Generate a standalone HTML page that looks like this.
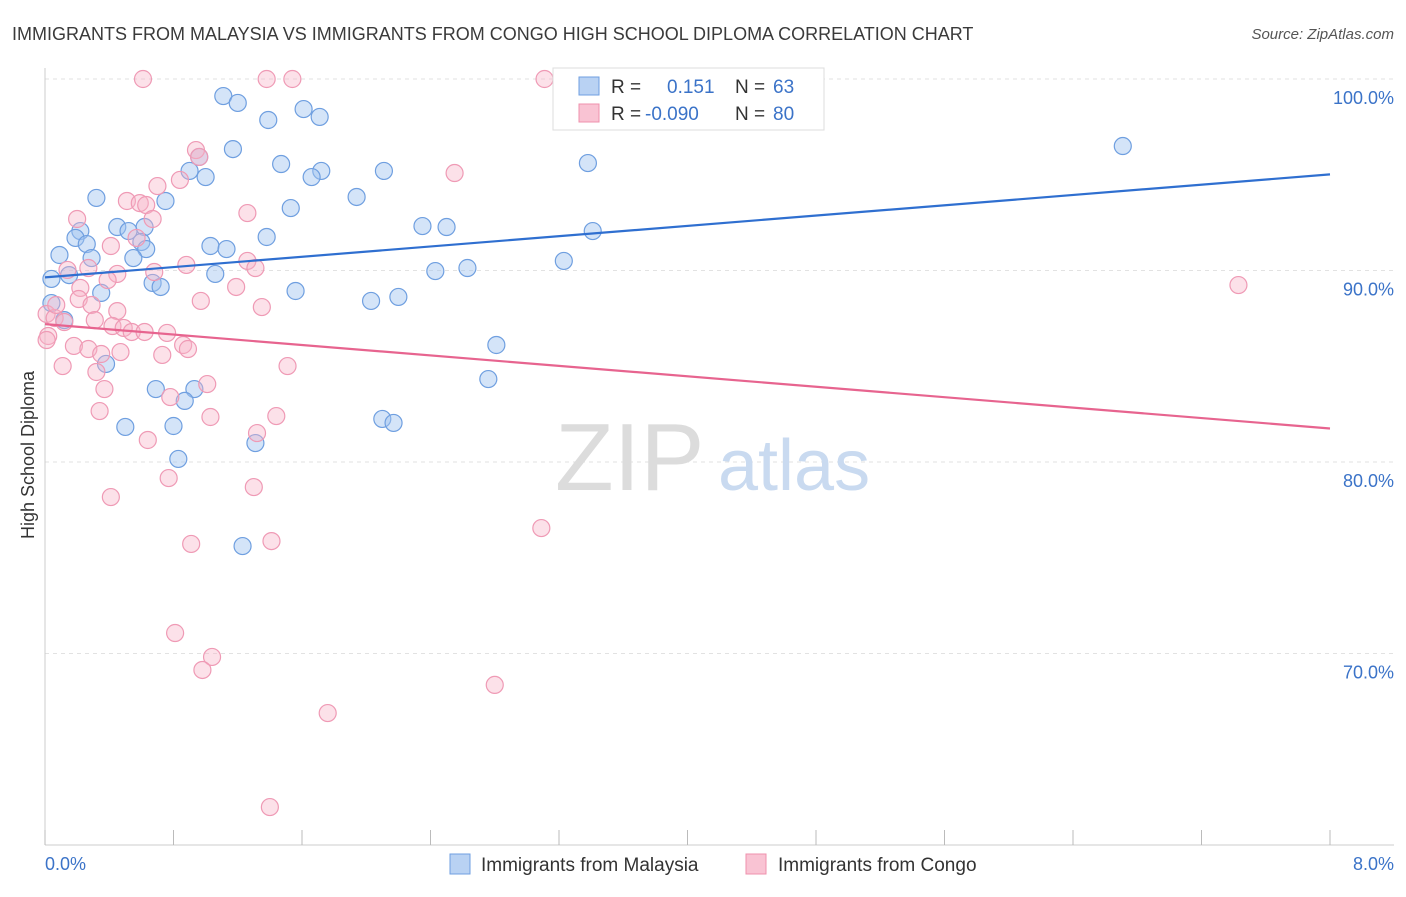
<!DOCTYPE html>
<html><head><meta charset="utf-8"><style>
body{margin:0;background:#fff;font-family:"Liberation Sans",sans-serif;}
svg text{font-family:"Liberation Sans",sans-serif;}
</style></head><body>
<svg id="chart" width="1406" height="892">
<text x="12" y="40" font-size="18" fill="#3a3a3a">IMMIGRANTS FROM MALAYSIA VS IMMIGRANTS FROM CONGO HIGH SCHOOL DIPLOMA CORRELATION CHART</text>
<text x="1394" y="39" font-size="15" fill="#555" text-anchor="end" font-style="italic">Source: ZipAtlas.com</text>
<g id="grid"></g>
<text x="555" y="490" font-size="96" fill="#dcdcdc" font-family="Liberation Serif">ZIP</text>
<text x="718" y="490" font-size="72" fill="#c9daf0">atlas</text>
<g id="pts"></g>
<g id="lines"></g>
<text transform="translate(34,455) rotate(-90)" font-size="18" fill="#333" text-anchor="middle">High School Diploma</text>
<text x="45" y="870" font-size="18" fill="#3b73c8">0.0%</text>
<text x="1394" y="870" font-size="18" fill="#3b73c8" text-anchor="end">8.0%</text>
<g>
<rect x="553" y="68" width="271" height="62" fill="#fff" stroke="#ddd"/>
<rect x="579" y="77" width="20" height="18" fill="#b9d2f3" stroke="#6f9fe0"/>
<rect x="579" y="104" width="20" height="18" fill="#f9c3d3" stroke="#ef90ad"/>
<text x="611" y="93" font-size="19" fill="#333">R = <tspan x="667" fill="#3b73c8">0.151</tspan><tspan x="735" fill="#333">N = </tspan><tspan x="773" fill="#3b73c8">63</tspan></text>
<text x="611" y="120" font-size="19" fill="#333">R = <tspan x="645" fill="#3b73c8">-0.090</tspan><tspan x="735" fill="#333">N = </tspan><tspan x="773" fill="#3b73c8">80</tspan></text>
</g>
<g>
<rect x="450" y="854" width="20" height="20" fill="#b9d2f3" stroke="#6f9fe0"/>
<text x="481" y="871" font-size="19" fill="#333">Immigrants from Malaysia</text>
<rect x="746" y="854" width="20" height="20" fill="#f9c3d3" stroke="#ef90ad"/>
<text x="778" y="871" font-size="19" fill="#333">Immigrants from Congo</text>
</g>
</svg>
<script>
const yTicks=[100,90,80,70];
const yTickLabels=["100.0%","90.0%","80.0%","70.0%"];
const xTicks=[0,0.8,1.6,2.4,3.2,4,4.8,5.6,6.4,7.2,8];
const malaysiaX=[1.11,1.20,1.39,1.61,1.71,6.71,3.38,0.96,1.17,1.47,1.72,1.66,2.11,0.90,1.00,0.32,0.75,1.94,1.53,2.35,2.50,0.45,0.62,0.52,0.22,3.41,0.19,0.26,1.38,0.60,0.63,1.03,1.13,0.09,0.29,0.55,3.23,2.43,2.63,1.06,0.15,0.04,0.67,0.72,0.35,1.56,2.20,2.03,0.04,0.12,2.81,0.38,2.76,0.93,0.69,0.87,2.10,2.17,0.80,0.50,1.31,0.83,1.23];
const malaysiaY=[99.11,98.75,97.86,98.43,98.02,96.50,95.61,95.93,96.34,95.56,95.20,94.88,95.20,95.20,94.88,93.79,93.63,93.84,93.26,92.32,92.27,92.27,92.27,92.06,92.06,92.06,91.70,91.38,91.75,91.49,91.12,91.28,91.12,90.81,90.65,90.65,90.50,89.97,90.13,89.82,89.76,89.56,89.35,89.14,88.83,88.93,88.62,88.41,88.30,87.41,86.11,85.12,84.33,83.81,83.81,83.19,82.25,82.04,81.88,81.83,80.99,80.16,75.61];
const congoX=[0.61,1.38,1.54,3.11,0.94,0.96,0.84,0.70,2.55,0.51,0.59,0.63,1.26,0.20,0.67,0.41,0.57,1.26,1.31,0.88,0.14,0.27,0.68,0.45,0.39,0.22,1.19,0.21,0.97,0.29,1.35,0.45,0.01,0.06,0.31,0.12,0.42,0.49,0.02,0.54,0.62,0.76,0.86,0.89,0.18,0.27,0.35,0.73,0.11,1.51,0.32,1.01,0.37,0.78,0.34,1.03,1.44,0.64,1.32,0.41,0.77,1.30,3.09,0.91,1.41,0.81,1.04,0.98,2.80,1.76,1.40,7.43,0.01,0.07,0.47];
const congoY=[100,100,100,100,96.29,95.93,94.73,94.41,95.09,93.63,93.52,93.42,93.00,92.69,92.69,91.28,91.70,90.50,90.13,90.29,90.03,90.13,89.92,89.82,89.50,89.09,89.14,88.51,88.41,88.20,88.09,87.88,87.73,87.52,87.41,87.31,87.10,87.00,86.58,86.79,86.79,86.74,86.11,85.90,86.06,85.90,85.64,85.59,85.01,85.01,84.70,84.07,83.81,83.39,82.66,82.35,82.40,81.15,81.51,78.17,79.16,78.69,76.55,75.72,75.87,71.07,69.82,69.14,68.36,66.89,61.98,89.24,86.37,88.20,85.74];
const malaysiaTrend=[89.64,95.02];
const congoTrend=[87.2,81.75];
const NS='http://www.w3.org/2000/svg';
const sx=v=>45+v*(1330-45)/8;
const sy=v=>79+(100-v)*19.15;
function mk(tag,attrs,parent){const e=document.createElementNS(NS,tag);for(const k in attrs)e.setAttribute(k,attrs[k]);parent.appendChild(e);return e;}
const grid=document.getElementById('grid');
yTicks.forEach((t,i)=>{
 const l=mk('line',{x1:45,x2:1394,y1:sy(t),y2:sy(t),stroke:'#e2e2e2','stroke-dasharray':'4,4'},grid);
 
 
 const tx=mk('text',{x:1394,y:sy(t)+25,'font-size':18,fill:'#3b73c8','text-anchor':'end'},grid);
 tx.textContent=yTickLabels[i];
 
 
});
const ax=mk('line',{x1:45,x2:1394,y1:845,y2:845,stroke:'#ccc'},grid);


const ay=mk('line',{x1:45,x2:45,y1:68,y2:845,stroke:'#ccc'},grid);


xTicks.forEach(t=>{
 const l=mk('line',{x1:sx(t),x2:sx(t),y1:830,y2:845,stroke:'#bbb'},grid);
 
 
});
const pts=document.getElementById('pts');
malaysiaX.forEach((x,i)=>{
 const c=mk('circle',{cx:sx(x),cy:sy(malaysiaY[i]),r:8.5,fill:'rgba(160,195,240,0.45)',stroke:'#6f9fe0','stroke-width':1.2},pts);
 
 
});
congoX.forEach((x,i)=>{
 const c=mk('circle',{cx:sx(x),cy:sy(congoY[i]),r:8.5,fill:'rgba(248,180,200,0.4)',stroke:'#ef9ab5','stroke-width':1.2},pts);
 
 
});
const lines=document.getElementById('lines');
const bl=mk('line',{x1:sx(0),x2:sx(8),y1:sy(malaysiaTrend[0]),y2:sy(malaysiaTrend[1]),stroke:'#2f6fd0','stroke-width':2.2},lines);


const pl=mk('line',{x1:sx(0),x2:sx(8),y1:sy(congoTrend[0]),y2:sy(congoTrend[1]),stroke:'#e7648f','stroke-width':2.2},lines);


</script>
</body></html>
